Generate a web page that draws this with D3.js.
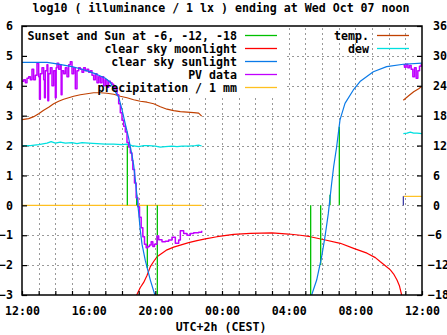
<!DOCTYPE html>
<html><head><meta charset="utf-8">
<script src="https://cdn.jsdelivr.net/npm/d3@7/dist/d3.min.js"></script>
<style>
html,body{margin:0;padding:0;background:#fff;}
svg text{font-family:"DejaVu Sans Mono",monospace;font-weight:bold;font-size:11.6px;fill:#000;}
</style></head><body>
<svg id="c" width="447" height="335"></svg>
<script>
// ---- data (hours after 12:00 Tue) ----
const titleText = "log10 ( illuminance / 1 lx ) ending at Wed Oct 07 noon";
const xLabel = "UTC+2h (CEST)";
const xTickLabels = ["12:00","16:00","20:00","00:00","04:00","08:00","12:00"];
const yTicks = [-3,-2,-1,0,1,2,3,4,5,6];
const y2Ticks = [-18,-12,-6,0,6,12,18,24,30,36];

const sunH = [0,1.5,2.0,2.5,3.0,3.5,4.0,4.5,5.0,5.3,5.5,5.8,6.0,6.2,6.4,6.5,6.6,6.7,6.8,6.9,7.0,7.1,7.2,7.4,7.7,8.0];
const sunV = [4.78,4.78,4.74,4.69,4.64,4.57,4.48,4.38,4.25,4.12,3.88,3.62,3.2,2.72,2.25,1.95,1.68,1.35,0.85,0.3,-0.25,-0.85,-1.3,-1.85,-2.5,-3.05];
const sunH2 = [17.35,17.68,17.98,18.18,18.38,18.58,18.7,18.88,19.08,19.38,19.88,20.28,21.08,21.88,22.88,24];
const sunV2 = [-3.05,-2.5,-1.72,-1.05,-0.27,0.74,1.3,1.96,2.86,3.41,3.86,4.14,4.47,4.64,4.72,4.76];

const moonH = [6.88,7.1,7.3,7.5,7.7,7.9,8.1,8.4,8.7,9.1,9.5,10.0,10.5,11.0,11.7,12.7,13.7,15.0,16.0,16.7,17.3,18.2,19.1,19.9,20.7,21.2,21.5,21.8,22.1,22.3,22.5,22.65,22.78];
const moonV = [-3,-2.75,-2.58,-2.35,-2.05,-1.88,-1.72,-1.6,-1.49,-1.4,-1.33,-1.25,-1.18,-1.12,-1.05,-0.97,-0.94,-0.92,-0.96,-1.0,-1.05,-1.16,-1.27,-1.44,-1.6,-1.75,-1.89,-2.02,-2.16,-2.3,-2.5,-2.7,-3.0];

const pvH = [0,0.1,0.2,0.3,0.4,0.5,0.6,0.7,0.8,0.9,1.0,1.05,1.1,1.2,1.3,1.35,1.4,1.5,1.55,1.6,1.7,1.8,1.9,2.0,2.05,2.1,2.2,2.3,2.35,2.4,2.5,2.6,2.7,2.8,2.9,3.0,3.1,3.2,3.3,3.4,3.5,3.6,3.7,3.8,3.9,4.0,4.1,4.2,4.3,4.4,4.5,4.6,4.7,4.8,4.9,5.0,5.1,5.2,5.3,5.4,5.5,5.6,5.7,5.8,5.9,6.0,6.1,6.2,6.3,6.4,6.5,6.6,6.65,6.75,6.85,6.95,7.05,7.15,7.25,7.35,7.45,7.55,7.65,7.75,7.85,7.95,8.1,8.2,8.4,8.6,8.8,9.0,9.2,9.4,9.5,9.7,9.9,10.1,10.3,10.6,10.78];
const pvV = [4.15,4.2,4.1,4.25,4.3,4.2,4.55,4.2,4.35,4.75,4.3,3.55,4.4,4.6,4.2,3.6,4.5,4.7,3.5,4.4,4.6,4.0,4.5,3.6,4.6,4.75,4.55,4.7,3.7,4.5,4.4,4.6,4.3,4.7,4.8,4.4,4.6,3.9,4.5,4.6,4.55,4.45,4.6,4.5,4.55,4.45,4.5,4.35,4.2,4.4,4.1,4.3,4.1,4.3,4.0,4.2,3.95,4.15,4.1,4.05,3.95,3.9,3.7,3.4,3.1,2.85,2.65,2.45,2.1,1.95,1.75,1.5,1.2,0.75,0.25,-0.05,-0.4,-0.75,-1.05,-1.3,-1.42,-1.38,-1.33,-1.22,-1.38,-1.3,-1.03,-1.15,-1.22,-1.2,-1.16,-1.07,-1.27,-1.16,-0.85,-0.94,-1.0,-0.94,-0.92,-0.9,-0.85];
const pvH2 = [22.88,22.95,23.05,23.15,23.25,23.35,23.45,23.55,23.65,23.75,23.85,23.95,24];
const pvV2 = [4.7,4.62,4.72,4.6,4.68,4.55,4.3,4.6,4.25,4.5,4.65,4.7,4.72];

const tempH = [0,0.4,0.7,1.0,1.3,1.6,1.9,2.2,2.5,2.8,3.1,3.5,3.9,4.3,4.7,5.1,5.5,5.9,6.3,6.7,7.1,7.5,7.9,8.3,8.7,9.1,9.5,9.9,10.3,10.6,10.78];
const tempC = [17.2,17.4,17.8,18.4,19.1,19.7,20.4,20.9,21.3,21.6,21.9,22.2,22.4,22.6,22.6,22.5,22.3,21.9,21.6,21.2,20.9,20.7,20.4,19.8,19.3,19.0,18.8,18.7,18.6,18.5,17.9];
const tempH2 = [22.88,23.2,23.5,23.8,24];
const tempC2 = [21.1,22.0,22.8,23.4,23.9];

const dewH = [0,0.5,1.0,1.5,1.75,2.0,2.3,2.6,3.0,3.3,3.6,4.0,4.5,5.0,5.5,6.0,6.3,6.6,7.0,7.3,7.6,8.0,8.3,8.6,9.0,9.3,9.6,10.0,10.4,10.6,10.78];
const dewC = [12.0,12.0,12.2,12.5,12.8,12.5,12.7,12.5,12.6,12.4,12.6,12.5,12.4,12.3,12.3,12.2,12.3,12.0,11.8,12.0,12.0,11.9,11.7,11.8,11.9,11.8,11.9,11.9,12.0,12.1,11.9];
const dewH2 = [22.88,23.1,23.3,23.5,23.7,24];
const dewC2 = [14.4,14.5,14.7,14.5,14.5,14.4];

const precipH = [0,10.78];
const precipV = [0,0];
const precipH2 = [22.88,24];
const precipV2 = [0.3,0.3];

const twiH  = [6.32,6.88,7.52,8.12,17.32,17.92,18.48,19.04];
const twiLo = [0,0,-2.1,-3,-3,-2.0,0,0];
const twiHi = [2.0,0.35,0,0,0,0,0.35,2.63];

const keyLeft = ["Sunset and Sun at -6, -12, -18","clear sky moonlight","clear sky sunlight","PV data","precipitation / 1 mm"];
const keyLeftColors = ["#00c000","#ff0000","#0a7ae8","#c000ff","#ffc020"];
const keyRight = ["temp.","dew"];
const keyRightColors = ["#c04000","#00e0e0"];

// ---- drawing ----
const svg = d3.select("#c");
const L=22,R=422,T=26,B=295;
const x = d3.scaleLinear().domain([0,24]).range([L,R]);
const y = d3.scaleLinear().domain([-3,6]).range([B,T]);
const y2 = d3.scaleLinear().domain([-18,36]).range([B,T]);

svg.append("defs").append("clipPath").attr("id","clip")
  .append("rect").attr("x",L).attr("y",T).attr("width",R-L).attr("height",B-T);

// grid
const grid = svg.append("g").attr("class","grid");
grid.append("g").attr("transform",`translate(0,${B})`)
  .call(d3.axisBottom(x).tickValues(d3.range(1,24)).tickSize(-(B-T)).tickFormat(""));
grid.append("g").attr("transform",`translate(${L},0)`)
  .call(d3.axisLeft(y).tickValues(d3.range(-2,6)).tickSize(-(R-L)).tickFormat(""));
grid.selectAll(".domain").remove();
grid.selectAll("line").attr("stroke","#999").attr("stroke-width",1).attr("stroke-dasharray","2,3")
  .attr("shape-rendering","crispEdges");

// opaque key box
svg.append("rect").attr("x",L+1).attr("y",T+1).attr("width",283-L).attr("height",95-T).attr("fill","#fff");

const g = svg.append("g").attr("clip-path","url(#clip)");
function line(hs, vs, sc, color, w, curve){
  const pts = hs.map((h,i)=>[h,vs[i]]);
  g.append("path").datum(pts)
    .attr("d", d3.line().x(d=>x(d[0])).y(d=>sc(d[1])).curve(curve||d3.curveLinear))
    .attr("fill","none").attr("stroke",color).attr("stroke-width",w).attr("stroke-linejoin","round");
}
line(tempH,tempC,y2,keyRightColors[0],1.2);
line(tempH2,tempC2,y2,keyRightColors[0],1.2);
line(dewH,dewC,y2,keyRightColors[1],1.2);
line(dewH2,dewC2,y2,keyRightColors[1],1.2);
line(precipH,precipV,y,keyLeftColors[4],1.2);
line(precipH2,precipV2,y,keyLeftColors[4],1.2);
g.append("line").attr("x1",x(precipH2[0])).attr("x2",x(precipH2[0])).attr("y1",y(0)).attr("y2",y(precipV2[0]))
  .attr("stroke","#3030a0").attr("stroke-width",1.2);
line(moonH,moonV,y,keyLeftColors[1],1.2);
twiH.forEach((h,i)=>{
  g.append("line").attr("x1",x(h)).attr("x2",x(h)).attr("y1",y(twiLo[i])).attr("y2",y(twiHi[i]))
    .attr("stroke",keyLeftColors[0]).attr("stroke-width",1.3);
});
line(pvH,pvV,y,keyLeftColors[3],1.5,d3.curveStepAfter);
line(pvH2,pvV2,y,keyLeftColors[3],1.5,d3.curveStepAfter);
line(sunH,sunV,y,keyLeftColors[2],1.2);
line(sunH2,sunV2,y,keyLeftColors[2],1.2);

// border
svg.append("rect").attr("x",L).attr("y",T).attr("width",R-L).attr("height",B-T)
  .attr("fill","none").attr("stroke","#000").attr("stroke-width",1.5);

// axes ticks
const ax = svg.append("g");
ax.append("g").attr("transform",`translate(0,${B})`)
  .call(d3.axisBottom(x).tickValues(d3.range(0,25)).tickSizeInner(-4).tickSizeOuter(0).tickPadding(12)
    .tickFormat(d=> d%4===0 ? xTickLabels[d/4] : ""));
ax.append("g").attr("transform",`translate(${L},0)`)
  .call(d3.axisLeft(y).tickValues(yTicks).tickSizeInner(-5).tickSizeOuter(0).tickPadding(9).tickFormat(d3.format("d")));
const r = ax.append("g").attr("transform",`translate(${R},0)`)
  .call(d3.axisRight(y2).tickValues(y2Ticks).tickSizeInner(-5).tickSizeOuter(0).tickPadding(9).tickFormat(d3.format("d")));
r.selectAll("text").attr("x", d => d < 0 ? 6 : 11);
ax.selectAll(".domain").remove();
ax.selectAll("line").attr("stroke","#000").attr("stroke-width",1.2);
ax.selectAll("text").style("font-family","DejaVu Sans Mono").style("font-weight","bold").style("font-size","11.6px").attr("fill","#000");

// titles
svg.append("text").attr("x",221).attr("y",12).attr("text-anchor","middle").text(titleText);
svg.append("text").attr("x",221).attr("y",331).attr("text-anchor","middle").text(xLabel);

// keys
keyLeft.forEach((t,i)=>{
  const yy = 40 + i*13;
  svg.append("text").attr("x",237).attr("y",yy).attr("text-anchor","end").text(t);
  svg.append("line").attr("x1",245).attr("x2",277).attr("y1",yy-4.5).attr("y2",yy-4.5)
    .attr("stroke",keyLeftColors[i]).attr("stroke-width",1.3);
});
keyRight.forEach((t,i)=>{
  const yy = 40 + i*13;
  svg.append("text").attr("x",369).attr("y",yy).attr("text-anchor","end").text(t);
  svg.append("line").attr("x1",377).attr("x2",409).attr("y1",yy-4.5).attr("y2",yy-4.5)
    .attr("stroke",keyRightColors[i]).attr("stroke-width",1.3);
});
</script></body></html>
